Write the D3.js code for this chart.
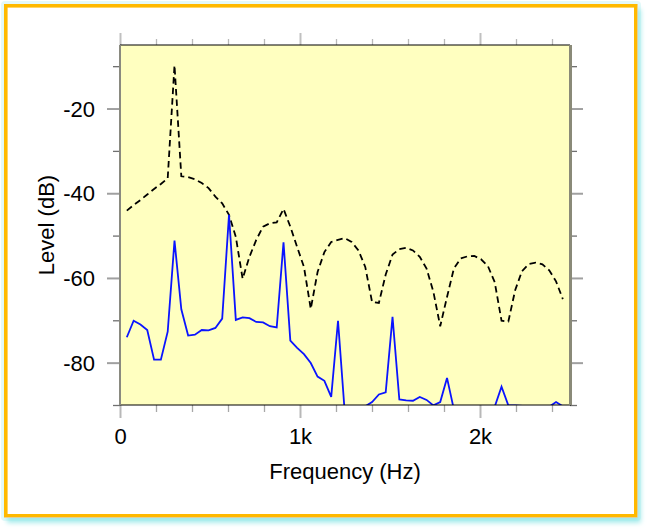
<!DOCTYPE html>
<html><head><meta charset="utf-8">
<script src="https://cdn.jsdelivr.net/npm/d3@7"></script>
<style>body{margin:0;background:#fff}svg{display:block;font-family:"Liberation Sans",Arial,Helvetica,sans-serif}</style>
</head><body><svg id="c" width="649" height="530"></svg>
<script>
// ---- data ----
const binHz = 37.85;             // spacing of spectrum bins (Hz)
const binIndex = d3.range(1, 66); // bins 1..65
const levelSpectrum = [ // blue solid line (dB)
 -74.0,-70.1,-71.0,-72.3,-79.3,-79.3,-72.7,-51.2,-67.4,-73.6,
 -73.4,-72.3,-72.4,-71.8,-69.6,-45.1,-69.9,-69.3,-69.5,-70.4,
 -70.5,-71.4,-71.7,-51.6,-74.8,-76.5,-78.0,-80.1,-83.3,-84.3,
 -88.1,-70.1,-92.0,-100,-96.0,-90.3,-89.3,-87.5,-87.0,-69.2,
 -88.7,-88.9,-89.0,-88.1,-88.8,-90.1,-89.3,-83.6,-91.0,-98.0,
 -100,-97.0,-99.0,-96.0,-90.4,-85.7,-90.1,-90.1,-90.2,-95.0,
 -99.0,-96.0,-90.4,-89.3,-90.3];
const envelope = [ // black dashed line (dB)
 -44.1,-42.8,-41.6,-40.3,-39.0,-37.8,-36.5,-9.8,-36.0,-36.2,
 -36.7,-37.6,-38.8,-40.8,-42.4,-45.1,-50.3,-60.2,-55.0,-51.0,
 -47.9,-47.1,-46.9,-43.7,-47.9,-52.7,-57.4,-67.3,-58.6,-53.9,
 -51.5,-51.0,-50.6,-51.5,-53.5,-57.4,-65.7,-65.9,-59.2,-54.5,
 -53.2,-52.9,-53.5,-55.0,-57.8,-63.3,-71.4,-64.5,-57.8,-55.4,
 -54.9,-54.8,-55.6,-57.2,-61.0,-70.1,-70.3,-62.9,-58.4,-56.7,
 -56.4,-56.8,-58.2,-60.8,-65.0];
const xMajorTicks = [0, 1000, 2000];
const xMajorLabels = ["0", "1k", "2k"];
const xMinorTicks = [200,400,600,800,1200,1400,1600,1800,2200,2400];
const yMajorTicks = [-80, -60, -40, -20];
const yMajorLabels = ["-80", "-60", "-40", "-20"];
const yMinorTicks = [-90, -70, -50, -30, -10];
const xTitle = "Frequency (Hz)";
const yTitle = "Level (dB)";

// ---- drawing ----
const svg = d3.select("#c");
const defs = svg.append("defs");
const f = defs.append("filter").attr("id","glow").attr("x","-5%").attr("y","-5%").attr("width","110%").attr("height","115%");
f.append("feGaussianBlur").attr("in","SourceAlpha").attr("stdDeviation",2.5).attr("result","b");
f.append("feOffset").attr("in","b").attr("dx",3).attr("dy",5).attr("result","o");
f.append("feFlood").attr("flood-color","#9eeaea");
f.append("feComposite").attr("in2","o").attr("operator","in").attr("result","s");
const m = f.append("feMerge"); m.append("feMergeNode").attr("in","s"); m.append("feMergeNode").attr("in","SourceGraphic");

svg.append("rect").attr("x",1).attr("y",1).attr("width",640).attr("height",520).attr("fill","#e4f9f9").attr("rx",4);
svg.append("rect").attr("x",5.8).attr("y",5.8).attr("width",630).attr("height",510)
  .attr("fill","#fff").attr("stroke","#ffb900").attr("stroke-width",3.6).attr("filter","url(#glow)");

const L=120, R=570, T=45, B=405;
const x = d3.scaleLinear().domain([0,2500]).range([L,R]);
const y = d3.scaleLinear().domain([-90,-5]).range([B,T]);

svg.append("rect").attr("x",L).attr("y",T).attr("width",R-L).attr("height",B-T).attr("fill","#ffffc0");
defs.append("clipPath").attr("id","clip").append("rect").attr("x",L).attr("y",T).attr("width",R-L).attr("height",B-T);

const line = d3.line().x((d,i)=>x(binIndex[i]*binHz)).y(d=>y(d));
const g = svg.append("g").attr("clip-path","url(#clip)");
g.append("path").datum(envelope).attr("d",line).attr("fill","none").attr("stroke","#000")
  .attr("stroke-width",1.8).attr("stroke-dasharray","6.5,4");
g.append("path").datum(levelSpectrum).attr("d",line).attr("fill","none").attr("stroke","#0a14ff")
  .attr("stroke-width",1.8).attr("stroke-linejoin","miter");

// axes (ticks outward)
function ax(axisFn, scale, vals, size, color, width, tf, labels){
  const a = axisFn(scale).tickValues(vals).tickSizeInner(size).tickSizeOuter(0)
    .tickFormat(labels ? (d,i)=>labels[i] : "");
  const gg = svg.append("g").attr("transform",tf).call(a);
  gg.select(".domain").remove();
  gg.selectAll(".tick line").attr("stroke",color).attr("stroke-width",width);
  return gg;
}
ax(d3.axisBottom, x, xMinorTicks, 7, "#a8a8a8", 1.3, `translate(0,${B})`);
const xb = ax(d3.axisBottom, x, xMajorTicks, 13, "#b8b8b8", 2, `translate(0,${B})`, xMajorLabels);
xb.selectAll("text").attr("font-size",22).attr("fill","#000").attr("y",23).attr("dy","0.71em").attr("font-family",null);
ax(d3.axisTop, x, xMinorTicks, 6, "#b8b8b8", 1.3, `translate(0,${T})`);
ax(d3.axisTop, x, xMajorTicks, 12, "#c0c0c0", 2, `translate(0,${T})`);
ax(d3.axisLeft, y, yMinorTicks, 7, "#707070", 1.3, `translate(${L},0)`);
const yl = ax(d3.axisLeft, y, yMajorTicks, 13, "#a0a0a0", 2, `translate(${L},0)`, yMajorLabels);
yl.selectAll("text").attr("font-size",22).attr("fill","#000").attr("x",-25).attr("dy","0.35em").attr("font-family",null);
ax(d3.axisRight, y, yMinorTicks, 7, "#707070", 1.3, `translate(${R},0)`);
ax(d3.axisRight, y, yMajorTicks, 13, "#a0a0a0", 2, `translate(${R},0)`);

// frame lines of plot
svg.append("line").attr("x1",L).attr("x2",R).attr("y1",T).attr("y2",T).attr("stroke","#000").attr("stroke-width",1.2);
svg.append("line").attr("x1",L).attr("x2",R+1).attr("y1",B).attr("y2",B).attr("stroke","#000").attr("stroke-width",1.2);
svg.append("line").attr("x1",L).attr("x2",L).attr("y1",T).attr("y2",B).attr("stroke","#8a8a80").attr("stroke-width",2);
svg.append("line").attr("x1",R+0.5).attr("x2",R+0.5).attr("y1",T).attr("y2",B).attr("stroke","#8a8a78").attr("stroke-width",3);

svg.append("text").attr("x",(L+R)/2).attr("y",479).attr("text-anchor","middle").attr("font-size",22).text(xTitle);
svg.append("text").attr("transform",`translate(54,${(T+B)/2}) rotate(-90)`).attr("text-anchor","middle").attr("font-size",22).text(yTitle);
</script></body></html>
